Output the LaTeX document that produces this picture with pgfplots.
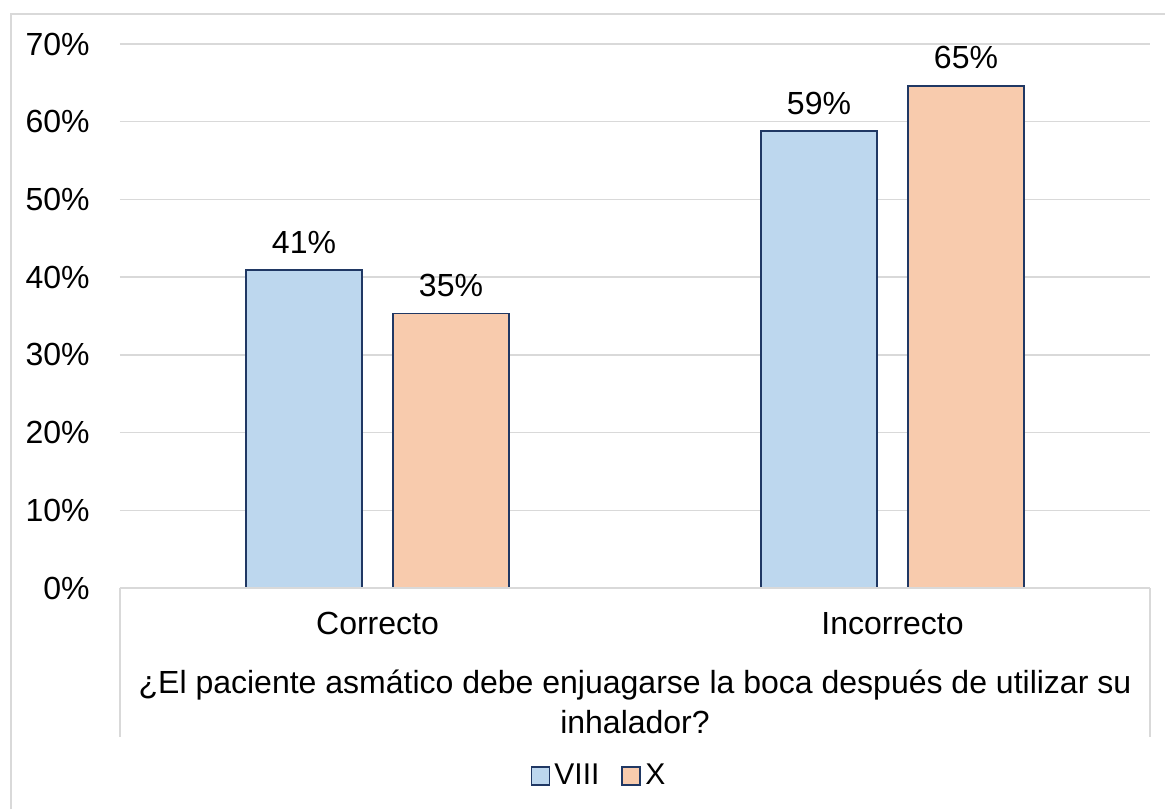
\documentclass[border=0pt]{standalone}
\usepackage{fontspec}
\setmainfont{Liberation Sans}
\usepackage{pgfplots}
\pgfplotsset{compat=1.18}
\definecolor{barblue}{HTML}{BDD7EE}
\definecolor{barpeach}{HTML}{F8CBAD}
\definecolor{baredge}{HTML}{203864}
\definecolor{gridgray}{HTML}{D9D9D9}

\begin{document}
\begin{tikzpicture}
\useasboundingbox (-60pt,-110.5pt) rectangle (522.5pt,294pt);
\fill[white] (-60pt,-110.5pt) rectangle (522.5pt,294pt);
\begin{axis}[
  at={(0pt,0pt)}, anchor=south west,
  scale only axis, width=515pt, height=272pt,
  xmin=-0.5, xmax=1.5, ymin=0, ymax=70,
  xtick={0,1}, xticklabels={Correcto,Incorrecto},
  ytick={0,10,...,70},
  yticklabel={\pgfmathprintnumber{\tick}\%},
  /pgf/number format/assume math mode=true,
  axis line style={draw=none},
  major tick length=0pt,
  ymajorgrids, grid style={gridgray, line width=0.75pt},
  tick label style={font=\fontsize{16}{19}\selectfont, text=black},
  yticklabel style={anchor=east, inner sep=0pt, xshift=-15pt},
  xticklabel style={anchor=north, inner sep=0pt, yshift=-12pt},
  xlabel={¿El paciente asmático debe enjuagarse la boca después de utilizar su\\inhalador?},
  xlabel style={at={(axis description cs:0.5,0)}, anchor=north, yshift=-41pt,
    align=center, inner sep=0pt, font=\fontsize{16}{19.6}\selectfont},
  ybar=15.5pt, bar width=58pt,
  nodes near coords={\pgfmathprintnumber[fixed,precision=0]{\pgfplotspointmeta}\%},
  nodes near coords style={font=\fontsize{16}{19}\selectfont, anchor=base, inner sep=0pt, yshift=8.5pt, text=black},
  legend style={at={(0.466,-0.3456)}, anchor=center, draw=none, fill=none,
    legend columns=2, font=\fontsize{15}{18}\selectfont, inner sep=0pt,
    /tikz/every even column/.append style={column sep=9pt}},
  legend image code/.code={\draw[#1, line width=0.9pt] (0pt,-4.5pt) rectangle (9pt,4.5pt);},
]
\addplot[fill=barblue, draw=baredge, line width=0.8pt] coordinates {(0,40.9) (1,58.8)};
\addplot[fill=barpeach, draw=baredge, line width=0.8pt] coordinates {(0,35.3) (1,64.6)};
\legend{VIII,X}
\draw[gridgray, line width=0.75pt] (axis cs:-0.5,0) -- (axis cs:1.5,0);
\end{axis}
% frame of the category area below the axis
\draw[gridgray, line width=0.6pt] (0pt,0pt) -- (0pt,-74.5pt);
\draw[gridgray, line width=0.6pt] (515pt,0pt) -- (515pt,-74.5pt);
% chart border
\draw[gridgray, line width=0.75pt] (-54.5pt,-110.5pt) -- (-54.5pt,287pt) -- (522.5pt,287pt);
\end{tikzpicture}
\end{document}
